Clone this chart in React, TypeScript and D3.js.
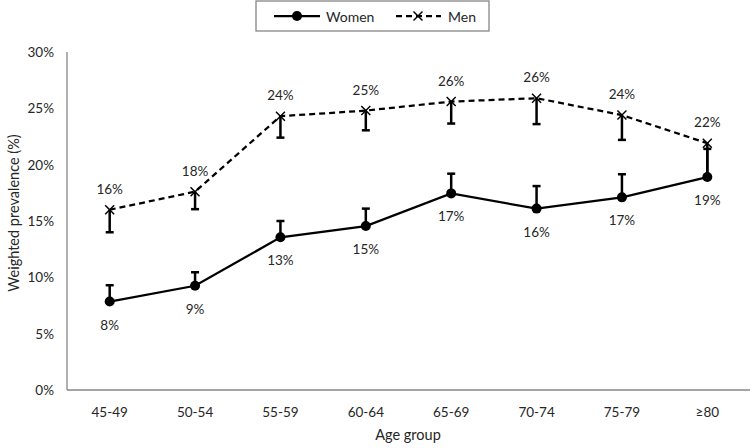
import React from "react";
import * as d3 from "d3";

const categories = ["45-49", "50-54", "55-59", "60-64", "65-69", "70-74", "75-79", "≥80"];
const womenValues = [7.85, 9.25, 13.55, 14.55, 17.45, 16.1, 17.1, 18.9];
const womenUpper = [9.3, 10.45, 15.0, 16.1, 19.2, 18.1, 19.15, 21.4];
const womenLabels = ["8%", "9%", "13%", "15%", "17%", "16%", "17%", "19%"];
const menValues = [16.0, 17.6, 24.3, 24.8, 25.6, 25.9, 24.4, 21.9];
const menLower = [14.0, 16.05, 22.4, 23.05, 23.65, 23.6, 22.2, 18.85];
const menLabels = ["16%", "18%", "24%", "25%", "26%", "26%", "24%", "22%"];
const yTicks = [0, 5, 10, 15, 20, 25, 30];

const W = 751;
const H = 448;
const FONT = "Lato, 'Open Sans', sans-serif";
const TEXT = "#262626";
const AXIS = "#868686";

export default function App() {
  const x = d3.scaleBand<string>().domain(categories).range([67, 750]);
  const y = d3.scaleLinear().domain([0, 30]).range([390, 52]);
  const cx = (i: number) => (x(categories[i]) as number) + x.bandwidth() / 2;

  const line = d3
    .line<number>()
    .x((_, i) => cx(i))
    .y((d) => y(d));

  const cap = 4;
  const xm = 4.5;

  return (
    <svg
      width={W}
      height={H}
      style={{ position: "fixed", left: 0, top: 0, background: "#fff" }}
      fontFamily={FONT}
    >
      <rect x={0} y={0} width={W} height={H} fill="#fff" />
      {/* axes */}
      <line x1={67} x2={67} y1={y(30)} y2={y(0)} stroke={AXIS} strokeWidth={1.3} />
      <line x1={67} x2={750} y1={y(0)} y2={y(0)} stroke={AXIS} strokeWidth={1.3} />
      {yTicks.map((t) => (
        <text
          key={t}
          x={54}
          y={y(t)}
          textAnchor="end"
          dominantBaseline="central"
          fontSize={13.5}
          fill={TEXT}
        >
          {t}%
        </text>
      ))}
      {categories.map((c, i) => (
        <text
          key={c}
          x={cx(i)}
          y={412}
          textAnchor="middle"
          dominantBaseline="central"
          fontSize={13.5}
          fill={TEXT}
        >
          {c}
        </text>
      ))}
      <text x={408} y={434} textAnchor="middle" dominantBaseline="central" fontSize={14.5} fill={TEXT}>
        Age group
      </text>
      <text
        transform={`translate(13,213) rotate(-90)`}
        textAnchor="middle"
        dominantBaseline="central"
        fontSize={14.5}
        fill={TEXT}
      >
        Weighted prevalence (%)
      </text>

      {/* error bars */}
      {womenValues.map((v, i) => (
        <g key={"we" + i} stroke="#000" strokeWidth={2.5}>
          <line x1={cx(i)} x2={cx(i)} y1={y(v)} y2={y(womenUpper[i])} />
          <line x1={cx(i) - cap} x2={cx(i) + cap} y1={y(womenUpper[i])} y2={y(womenUpper[i])} />
        </g>
      ))}
      {menValues.map((v, i) => (
        <g key={"me" + i} stroke="#000" strokeWidth={2.5}>
          <line x1={cx(i)} x2={cx(i)} y1={y(v)} y2={y(menLower[i])} />
          <line x1={cx(i) - cap} x2={cx(i) + cap} y1={y(menLower[i])} y2={y(menLower[i])} />
        </g>
      ))}

      {/* lines */}
      <path d={line(womenValues) || ""} fill="none" stroke="#000" strokeWidth={2.25} />
      <path
        d={line(menValues) || ""}
        fill="none"
        stroke="#000"
        strokeWidth={2.25}
        strokeDasharray="6,4"
      />

      {/* markers */}
      {womenValues.map((v, i) => (
        <circle key={"wm" + i} cx={cx(i)} cy={y(v)} r={5} fill="#000" />
      ))}
      {menValues.map((v, i) => (
        <g key={"mm" + i} stroke="#000" strokeWidth={1.5}>
          <line x1={cx(i) - xm} x2={cx(i) + xm} y1={y(v) - xm} y2={y(v) + xm} />
          <line x1={cx(i) - xm} x2={cx(i) + xm} y1={y(v) + xm} y2={y(v) - xm} />
        </g>
      ))}

      {/* data labels */}
      {womenValues.map((v, i) => (
        <text
          key={"wl" + i}
          x={cx(i)}
          y={y(v) + 23}
          textAnchor="middle"
          dominantBaseline="central"
          fontSize={13.5}
          fill={TEXT}
        >
          {womenLabels[i]}
        </text>
      ))}
      {menValues.map((v, i) => (
        <text
          key={"ml" + i}
          x={cx(i)}
          y={y(v) - 21}
          textAnchor="middle"
          dominantBaseline="central"
          fontSize={13.5}
          fill={TEXT}
        >
          {menLabels[i]}
        </text>
      ))}

      {/* legend */}
      <rect x={256} y={1} width={233} height={30} fill="#fff" stroke={AXIS} strokeWidth={1.3} />
      <line x1={274} x2={320} y1={16} y2={16} stroke="#000" strokeWidth={2.25} />
      <circle cx={297} cy={16} r={5} fill="#000" />
      <text x={326} y={16} dominantBaseline="central" fontSize={14} fill={TEXT}>
        Women
      </text>
      <line x1={396} x2={441} y1={16} y2={16} stroke="#000" strokeWidth={2.25} strokeDasharray="6,4" />
      <g stroke="#000" strokeWidth={1.5}>
        <line x1={418 - xm} x2={418 + xm} y1={16 - xm} y2={16 + xm} />
        <line x1={418 - xm} x2={418 + xm} y1={16 + xm} y2={16 - xm} />
      </g>
      <text x={448} y={16} dominantBaseline="central" fontSize={14} fill={TEXT}>
        Men
      </text>
    </svg>
  );
}
